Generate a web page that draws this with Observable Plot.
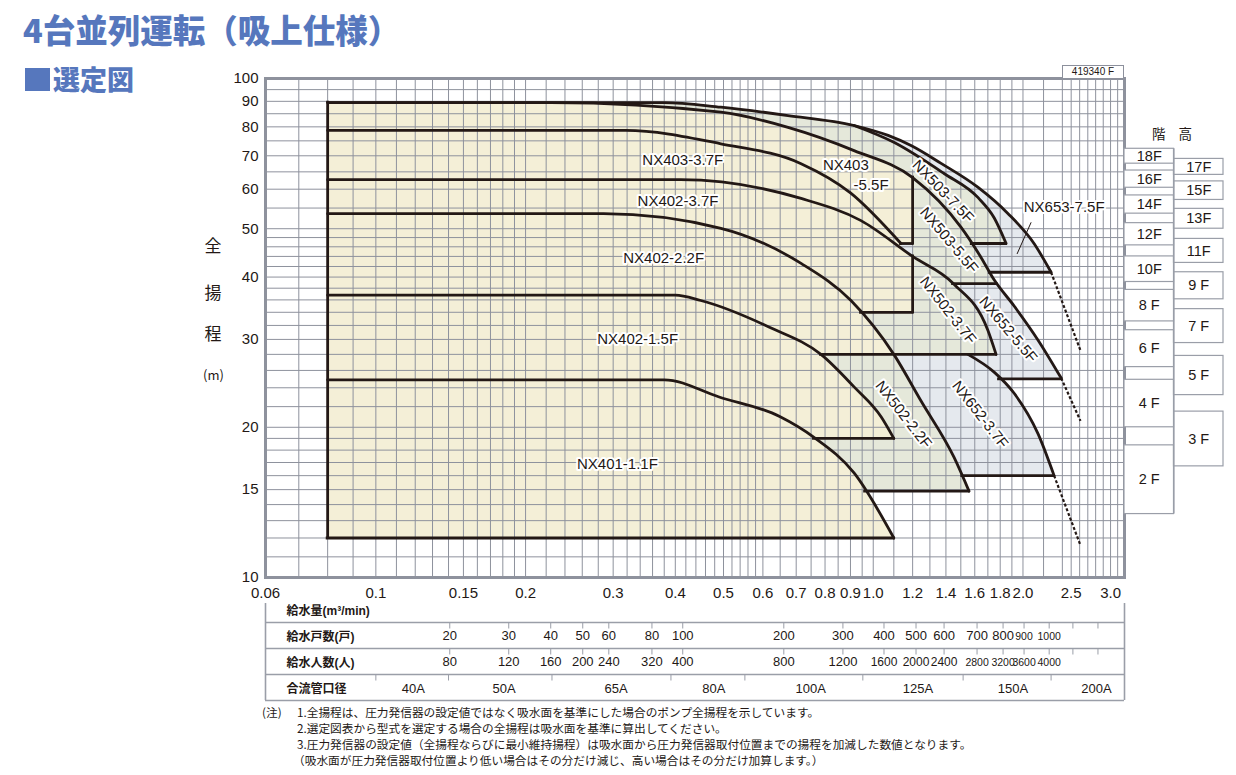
<!DOCTYPE html>
<html><head><meta charset="utf-8">
<script src="https://cdn.jsdelivr.net/npm/d3@7"></script>
<script src="https://cdn.jsdelivr.net/npm/@observablehq/plot@0.6"></script>
<style>
body{margin:0;background:#fff;}
#page{position:relative;width:1236px;height:775px;overflow:hidden;font-family:"Liberation Sans",Arial,"Noto Sans CJK JP",sans-serif;color:#231815;background:#fff;}
.abs{position:absolute;white-space:nowrap;}
#title{left:23px;top:10px;font-family:"Noto Sans CJK JP";font-weight:900;font-size:32.5px;line-height:38px;color:#5677bd;}
#sq{left:25px;top:68px;width:25px;height:23px;background:#5677bd;}
#sub{left:53px;top:62px;font-family:"Noto Sans CJK JP";font-weight:900;font-size:27px;line-height:34px;color:#5677bd;}
.yl{font-family:"Noto Sans CJK JP";font-size:17px;line-height:18px;width:20px;text-align:center;left:203px;}
#code{left:1062px;top:65px;width:60px;height:12px;border:1px solid #8c909c;border-bottom:none;font-size:10px;line-height:12px;text-align:center;background:#fff;}
#kaikou{left:1152px;top:123px;font-family:"Noto Sans CJK JP";font-size:13.5px;letter-spacing:13px;}
.note{font-family:"Noto Sans CJK JP";font-size:11.7px;line-height:16px;}
</style></head>
<body>
<div id="page">
  <div id="main" class="abs" style="left:0;top:0"></div>
  <div id="table" class="abs" style="left:0;top:596px"></div>
  <div id="floors" class="abs" style="left:1110px;top:0"></div>
  <div id="title" class="abs">4台並列運転（吸上仕様）</div>
  <div id="sq" class="abs"></div>
  <div id="sub" class="abs">選定図</div>
  <div class="abs yl" style="top:236px">全</div>
  <div class="abs yl" style="top:283px">揚</div>
  <div class="abs yl" style="top:324px">程</div>
  <div class="abs yl" style="top:366px;font-size:13px">(m)</div>
  <div id="code" class="abs">419340 F</div>
  <div id="kaikou" class="abs">階高</div>
  <div class="abs note" style="left:262px;top:704px">(注)</div>
  <div class="abs note" style="left:297px;top:704px">1.全揚程は、圧力発信器の設定値ではなく吸水面を基準にした場合のポンプ全揚程を示しています。</div>
  <div class="abs note" style="left:297px;top:720px">2.選定図表から型式を選定する場合の全揚程は吸水面を基準に算出してください。</div>
  <div class="abs note" style="left:297px;top:736px">3.圧力発信器の設定値（全揚程ならびに最小維持揚程）は吸水面から圧力発信器取付位置までの揚程を加減した数値となります。</div>
  <div class="abs note" style="left:293px;top:752px">（吸水面が圧力発信器取付位置より低い場合はその分だけ減じ、高い場合はその分だけ加算します。）</div>
</div>
<script>
// ---------------- DATA (flow Q in m3/min, total head H in m) ----------------
const xTicks = [0.06,0.1,0.15,0.2,0.3,0.4,0.5,0.6,0.7,0.8,0.9,1.0,1.2,1.4,1.6,1.8,2.0,2.5,3.0];
const xTickLabels = ["0.06","0.1","0.15","0.2","0.3","0.4","0.5","0.6","0.7","0.8","0.9","1.0","1.2","1.4","1.6","1.8","2.0","2.5","3.0"];
const yTicks = [10,15,20,30,40,50,60,70,80,90,100];
const xGrid = [0.06,0.07,0.08,0.09,0.1,0.11,0.12,0.13,0.14,0.15,0.16,0.17,0.18,0.19,0.2,0.22,0.24,0.26,0.28,0.3,0.32,0.34,0.36,0.38,0.4,0.42,0.44,0.46,0.48,0.5,0.52,0.54,0.56,0.58,0.6,0.65,0.7,0.75,0.8,0.85,0.9,0.95,1.0,1.1,1.2,1.3,1.4,1.5,1.6,1.7,1.8,1.9,2.0,2.2,2.4,2.5,2.6,2.7,2.8,2.9,3.0,3.1];
const yGrid = [10,11,12,13,14,15,16,17,18,19,20,22,24,26,28,30,32,34,36,38,40,42,44,46,48,50,55,60,65,70,75,80,85,90,95,100];

// pump curves
const c653_75_q = [0.08,0.38,0.494,0.674,0.915,1.071,1.191,1.369,1.625,1.867,2.105,2.278];
const c653_75_h = [89.5,89.5,87.6,84.3,80.5,76.9,73.4,67.6,60.5,53.6,46.7,40.9];
const c503_75_q = [0.915,1.1,1.388,1.625,1.75,1.85];
const c503_75_h = [80.5,74.5,64.5,57.7,52.6,46.7];
const c55_q = [0.08,0.225,0.494,0.674,0.915,1.2,1.502,1.647,1.75,1.92,2.145,2.387];
const c55_h = [89.5,89.5,85.6,79.8,71.7,63.3,50.3,43.8,39.5,35.0,29.9,25.1];
const c403_37_q = [0.08,0.318,0.494,0.716,0.9,1.137];
const c403_37_h = [78.7,78.7,74.0,67.5,59.0,46.7];
const c37_q = [0.08,0.41,0.716,0.945,1.2,1.45,1.7,1.766];
const c37_h = [62.7,62.7,57.5,51.9,44.0,38.8,31.3,28.0];
const c22_q = [0.08,0.287,0.494,0.716,0.902,1.1,1.247,1.454,1.558];
const c22_h = [53.6,53.6,50.1,42.6,35.9,28.0,22.6,17.4,14.9];
const c15_q = [0.08,0.40,0.45,0.62,0.785,0.915,1.037,1.1];
const c15_h = [36.8,36.8,35.9,31.7,28.0,24.1,21.0,19.0];
const c11_q = [0.08,0.38,0.49,0.65,0.76,0.915,1.1];
const c11_h = [24.9,24.9,23.0,21.0,19.1,16.2,12.0];
const c652_37_q = [1.55,1.75,1.92,2.145,2.31];
const c652_37_h = [28.0,25.8,23.4,19.4,16.0];

// lower limit (horizontal) lines
const hsegH  = [12, 19, 28, 14.9, 16, 25, 34, 46.7, 38.8, 46.7, 40.9];
const hsegQ1 = [0.08, 0.76, 0.785, 0.963, 1.51, 1.79, 0.945, 1.137, 1.447, 1.578, 1.715];
const hsegQ2 = [1.1, 1.1, 1.766, 1.558, 2.31, 2.387, 1.2, 1.2, 1.77, 1.85, 2.278];
// vertical limit lines
const vsegQ  = [0.08, 1.2, 1.2];
const vsegH1 = [12, 46.7, 34];
const vsegH2 = [89.5, 63.3, 44];
// dashed extensions
const dashQ1 = [2.278, 2.387, 2.31];
const dashH1 = [40.9, 25.1, 16.0];
const dashQ2 = [2.61, 2.61, 2.61];
const dashH2 = [28.5, 20.6, 11.6];
// leader line of NX653-7.5F
const leaderQ = [2.077, 1.946];
const leaderH = [51.5, 44.5];

// model labels
const labelText  = ["NX403-3.7F","NX403","-5.5F","NX402-3.7F","NX402-2.2F","NX402-1.5F","NX401-1.1F","NX503-7.5F","NX503-5.5F","NX502-3.7F","NX652-5.5F","NX502-2.2F","NX652-3.7F","NX653-7.5F"];
const labelQ     = [0.414,0.881,0.99,0.405,0.379,0.336,0.306,1.381,1.42,1.413,1.867,1.15,1.64,2.42];
const labelH     = [68.5,66.9,61.0,56.7,43.6,30.0,16.9,59.4,47.4,34.3,31.4,21.2,21.2,55.1];
const labelAngle = [0,0,0,0,0,0,0,46,50,52,50,52,52,0];

// table below
const rowNames = ["給水量(m³/min)","給水戸数(戸)","給水人数(人)","合流管口径"];
const hhValues  = ["20","30","40","50","60","80","100","200","300","400","500","600","700","800","900","1000"];
const popValues = ["80","120","160","200","240","320","400","800","1200","1600","2000","2400","2800","3200","3600","4000"];
const hhQ = [0.1408,0.185,0.2247,0.2606,0.294,0.359,0.414,0.661,0.869,1.051,1.219,1.388,1.617,1.824,2.01,2.258];
const extraTickQ = [2.52,2.83];
const pipeBoundQ = [0.1,0.14,0.226,0.392,0.552,0.953,1.516,2.278];
const pipeNames = ["40A","50A","65A","80A","100A","125A","150A","200A"];
const pipeLabelQ = [0.119,0.181,0.304,0.478,0.749,1.23,1.91,2.81];

// floor heights (階高)
const floorNum = [2,3,4,5,6,7,8,9,10,11,12,13,14,15,16,17,18];
const floorLo  = [13.4,16.7,20.0,23.2,26.4,29.5,32.6,36.1,39.1,42.7,46.3,50.0,53.6,57.1,60.4,64.1,67.5];
const floorHi  = [18.4,21.5,24.9,27.8,31.3,34.5,37.7,40.9,44.0,47.7,51.3,54.8,58.3,62.2,65.4,69.0,72.3];

// ---------------- STYLE ----------------
const INK = "#231815", GRID = "#8e929d", TGRAY = "#9a9ea8";
const CREAM = "#f4efd7", GREEN = "#e5e8da", BLUE = "#e5e9ee";
const FONT = "'Liberation Sans', Arial, 'Noto Sans CJK JP', sans-serif";

function pts(q, h, i0 = 0, i1 = q.length - 1, base = null) {
  const out = [];
  for (let i = i0; i <= i1; i++) out.push({q: q[i], h: h[i], base});
  return out;
}

const fills = [
  {p: pts(c653_75_q, c653_75_h, 4, 11, 40.9), c: BLUE},
  {p: pts(c55_q, c55_h, 6, 11, 25), c: BLUE},
  {p: [{q: c22_q[5], h: c22_h[5], base: 16}].concat(pts(c652_37_q, c652_37_h, 0, 4, 16)), c: BLUE},
  {p: pts(c653_75_q, c653_75_h, 0, 4, 46.7).concat(pts(c503_75_q, c503_75_h, 1, 5, 46.7)), c: GREEN},
  {p: pts(c55_q, c55_h, 5, 8, 38.8), c: GREEN},
  {p: pts(c37_q, c37_h, 3, 7, 28), c: GREEN},
  {p: pts(c22_q, c22_h, 3, 8, 14.9), c: GREEN},
  {p: pts(c55_q, c55_h, 0, 5, 46.7), c: CREAM},
  {p: pts(c403_37_q, c403_37_h, 0, 5, 44), c: CREAM},
  {p: pts(c37_q, c37_h, 0, 4, 34), c: CREAM},
  {p: pts(c22_q, c22_h, 0, 5, 28), c: CREAM},
  {p: pts(c15_q, c15_h, 0, c15_q.length - 1, 19), c: CREAM},
  {p: pts(c11_q, c11_h, 0, c11_q.length - 1, 12), c: CREAM}
];

const curves = [
  [c653_75_q, c653_75_h], [c503_75_q, c503_75_h], [c55_q, c55_h], [c403_37_q, c403_37_h],
  [c37_q, c37_h], [c22_q, c22_h], [c15_q, c15_h], [c11_q, c11_h], [c652_37_q, c652_37_h]
];

const main = Plot.plot({
  width: 1236, height: 620,
  marginTop: 78, marginBottom: 43, marginLeft: 265, marginRight: 112,
  style: {background: "white", fontFamily: FONT, fontSize: "15px", color: INK},
  x: {type: "log", domain: [0.06, 3.2], axis: null},
  y: {type: "log", domain: [10, 100], ticks: yTicks, tickFormat: d => String(d), tickSize: 0, tickPadding: 7, label: null},
  marks: [
    ...fills.map(f => Plot.areaY(f.p, {x: "q", y1: "base", y2: "h", fill: f.c, curve: "monotone-x"})),
    Plot.ruleX(xGrid, {stroke: GRID, strokeWidth: 1}),
    Plot.ruleY(yGrid, {stroke: GRID, strokeWidth: 1}),
    Plot.frame({stroke: GRID, strokeWidth: 3}),
    ...curves.map(([q, h]) => Plot.line(pts(q, h), {x: "q", y: "h", stroke: INK, strokeWidth: 2.8, curve: "monotone-x", strokeLinejoin: "round"})),
    Plot.ruleY(hsegH, {x1: (d, i) => hsegQ1[i], x2: (d, i) => hsegQ2[i], stroke: INK, strokeWidth: 2.8, strokeLinecap: "square"}),
    Plot.ruleX(vsegQ, {y1: (d, i) => vsegH1[i], y2: (d, i) => vsegH2[i], stroke: INK, strokeWidth: 2.8, strokeLinecap: "square"}),
    Plot.link(dashQ1, {x1: d => d, y1: (d, i) => dashH1[i], x2: (d, i) => dashQ2[i], y2: (d, i) => dashH2[i], stroke: INK, strokeWidth: 2.2, strokeDasharray: "3,2"}),
    Plot.link([0], {x1: () => leaderQ[0], y1: () => leaderH[0], x2: () => leaderQ[1], y2: () => leaderH[1], stroke: INK, strokeWidth: 1}),
    Plot.text(labelText, {x: (d, i) => labelQ[i], y: (d, i) => labelH[i], text: d => d, rotate: (d, i) => labelAngle[i],
      fontSize: 15, fill: INK, stroke: "white", strokeWidth: 4, strokeLinejoin: "round"}),
    // x tick labels (placed just below the frame)
    Plot.text(xTickLabels, {x: (d, i) => xTicks[i], y: () => 10, text: d => d, dy: 16, fontSize: 15, fill: INK})
  ]
});
document.getElementById("main").appendChild(main);

// ---------------- table ----------------
const rowTicks = hhQ.concat(extraTickQ);
const smallHH = new Set(["900","1000"]);
const smallPop = new Set(["2800","3200","3600","4000"]);
const midPop = new Set(["1600","2000","2400"]);
const table = Plot.plot({
  width: 1236, height: 110,
  marginTop: 0, marginBottom: 6, marginLeft: 265, marginRight: 112,
  style: {background: "transparent", fontFamily: FONT, fontSize: "13px", color: INK, overflow: "visible"},
  x: {type: "log", domain: [0.06, 3.2], axis: null},
  y: {domain: [0, 4], range: [0, 104], axis: null},
  marks: [
    Plot.ruleY([1, 2, 3, 4], {stroke: TGRAY, strokeWidth: 1.3}),
    Plot.ruleX([0.06, 3.2], {y1: 0.27, y2: 4, stroke: TGRAY, strokeWidth: 1.6}),
    Plot.ruleX(rowTicks, {y1: 1, y2: 1.25, stroke: TGRAY, strokeWidth: 1}),
    Plot.ruleX(rowTicks, {y1: 2, y2: 2.25, stroke: TGRAY, strokeWidth: 1}),
    Plot.ruleX(pipeBoundQ, {y1: 3, y2: 3.25, stroke: TGRAY, strokeWidth: 1}),
    Plot.text(rowNames, {x: () => 0.06, y: (d, i) => i + 0.55, text: d => d, dx: 21, textAnchor: "start", fontWeight: "bold", fontSize: 12, fill: INK}),
    Plot.text(hhValues, {filter: d => !smallHH.has(d), x: (d, i) => hhQ[i], y: () => 1.53, text: d => d, fontSize: 13, fill: INK}),
    Plot.text(hhValues, {filter: d => smallHH.has(d), x: (d, i) => hhQ[i], y: () => 1.53, text: d => d, fontSize: 10.5, fill: INK, letterSpacing: "-0.5px"}),
    Plot.text(popValues, {filter: d => !smallPop.has(d) && !midPop.has(d), x: (d, i) => hhQ[i], y: () => 2.53, text: d => d, fontSize: 13, fill: INK}),
    Plot.text(popValues, {filter: d => midPop.has(d), x: (d, i) => hhQ[i], y: () => 2.53, text: d => d, fontSize: 12, fill: INK, letterSpacing: "-0.8px"}),
    Plot.text(popValues, {filter: d => smallPop.has(d), x: (d, i) => hhQ[i], y: () => 2.53, text: d => d, fontSize: 10.5, fill: INK, letterSpacing: "-0.6px"}),
    Plot.text(pipeNames, {x: (d, i) => pipeLabelQ[i], y: () => 3.54, text: d => d, fontSize: 13, fill: INK})
  ]
});
document.getElementById("table").appendChild(table);

// ---------------- floor height boxes ----------------
const floors = Plot.plot({
  width: 126, height: 620,
  marginTop: 78, marginBottom: 43, marginLeft: 14, marginRight: 13,
  style: {background: "transparent", fontFamily: FONT, fontSize: "14px", color: INK, overflow: "visible"},
  x: {domain: [0, 2], axis: null},
  y: {type: "log", domain: [10, 100], axis: null},
  marks: [
    Plot.rect(floorNum, {x1: d => d % 2, x2: d => d % 2 + 1, y1: (d, i) => floorLo[i], y2: (d, i) => floorHi[i], fill: "white", stroke: TGRAY, strokeWidth: 1.2}),
    Plot.ruleX([1], {y1: () => d3.min(floorLo), y2: () => d3.max(floorHi), stroke: TGRAY, strokeWidth: 1.2}),
    Plot.text(floorNum, {x: d => d % 2 + 0.5, y: (d, i) => Math.sqrt(floorLo[i] * floorHi[i]), text: d => d >= 10 ? d + "F" : d + " F", fontSize: 14.5, fill: INK})
  ]
});
document.getElementById("floors").appendChild(floors);
</script>
</body></html>
